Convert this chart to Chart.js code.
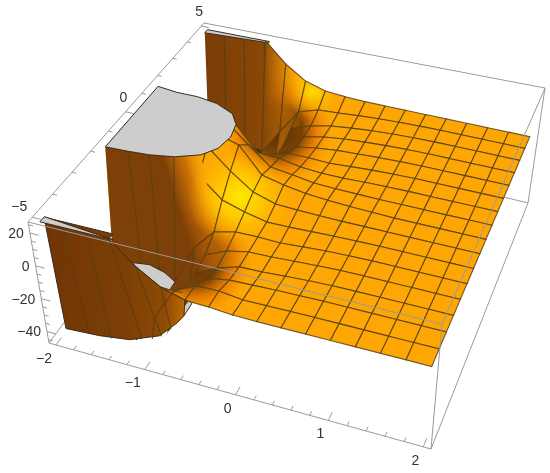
<!DOCTYPE html>
<html>
<head>
<meta charset="utf-8">
<style>html,body{margin:0;padding:0;background:#fff}canvas{display:block}</style>
<script src="https://cdn.jsdelivr.net/npm/chart.js@4"></script>
</head>
<body>
<canvas id="surface" width="550" height="473"></canvas>
<script>
// plot box (data units) and where its faces land in the picture
const xRange = [-2.08, 2.08];
const yRange = [-5.2, 5.2];
const zRange = [-47, 26.7];
const zCapTop = 25;
const zCapBottom = -45.6;
const topFace = [[28, 222], [442, 324], [545, 88], [204, 23]];
const bottomFace = [[49, 343], [431, 449], [528, 203], [210, 125]];

// surface mesh
const xMesh = [-1.25, -1, -0.75, -0.5, -0.25, 0, 0.25, 0.5, 0.75, 1, 1.25, 1.5, 1.75, 2];
const yMesh = [5, 4.375, 3.75, 3.125, 2.5, 1.875, 1.25, 0.625, 0, -0.625, -1.25, -1.875, -2.5, -3.125, -3.75, -4.375, -5];
const zMesh = [
  [25, 11.5, 2.5, -1.5, -2.5, -3, -3, -3, -3, -3, -3, -3, -3, -3],
  [-45.6, -28, -11.3, -7, -6.1, -5, -4.2, -3.6, -3.2, -3, -3, -3, -3, -3],
  [-45.6, -45.6, -14.7, -10.3, -7.3, -5.8, -4.6, -3.8, -3.3, -3, -3, -3, -3, -3],
  [-45.6, -45.6, -18.4, -10, -7, -5.3, -4.4, -3.7, -3.2, -3, -3, -3, -3, -3],
  [-45.6, -45.6, -18, -8.9, -6.5, -5, -4.4, -3.7, -3.2, -3, -3, -3, -3, -3],
  [-45.6, -30, -9, -5.1, -5, -5.5, -4.6, -3.8, -3.3, -3, -3, -3, -3, -3],
  [25, 15, 0, -0.4, -3, -4, -4, -3.5, -3.2, -3, -3, -3, -3, -3],
  [25, 25, 13, 1.9, 0, -2, -2.6, -2.8, -3, -3, -3, -3, -3, -3],
  [25, 25, 21, 4.9, 1.7, -0.5, -1.5, -2.2, -2.6, -3, -3, -3, -3, -3],
  [25, 25, 12.5, 2.4, -1.9, -2.5, -2.8, -3, -3, -3, -3, -3, -3, -3],
  [25, 15, 2.6, -1.7, -4.7, -4.5, -4, -3.5, -3.2, -3, -3, -3, -3, -3],
  [-45.6, -22, -8.8, -5.5, -5.2, -5.6, -4.6, -3.8, -3.3, -3, -3, -3, -3, -3],
  [-45.6, -45.6, -14.3, -8.4, -5.6, -5.3, -4.5, -3.8, -3.2, -3, -3, -3, -3, -3],
  [-45.6, -45.6, -16.4, -9.8, -5.7, -5.3, -4.4, -3.7, -3.2, -3, -3, -3, -3, -3],
  [-45.6, -45.6, -15.7, -6.8, -4.5, -4, -3.6, -3.3, -3, -3, -3, -3, -3, -3],
  [-45.6, -28, -9, -2, -1.7, -3.5, -3.3, -3.1, -3, -3, -3, -3, -3, -3],
  [25, 12, 3, -1.2, -1.7, -2.8, -3, -3, -3, -3, -3, -3, -3, -3]
];

// the clipped parts, as [x, y, z]
const backCap = [[-2, 5, 25], [-1.2, 5, 25], [-1.2, 4.92, 25], [-2, 4.8, 25]];
const backWall = [[-2, 4.8, 25], [-1.2, 4.92, 25], [-1.0, 4.6, 11.5], [-0.8, 4.5, -10], [-0.95, 4.3, -45.6], [-1.17, 4.56, -45.6], [-1.63, 4.57, -45.6], [-2, 4.64, -45.6]];
const backHole = [[-2, 4.64], [-1.17, 4.56], [-0.95, 4.3], [-0.8, 3.1], [-0.85, 2.4], [-1.2, 1.9], [-2, 1.9]];
const capRim = [[-2, -1.58], [-1.74, -1.55], [-1.5, -1.5], [-1.24, -1.35], [-1, -1.03], [-0.88, -0.6], [-0.84, 0], [-0.88, 0.6], [-1, 1.05], [-1.24, 1.37], [-1.5, 1.5], [-1.75, 1.5], [-2, 1.6]];
const lumpWall = [[-2, -1.58, 25], [-1.74, -1.55, 25], [-1.5, -1.5, 25], [-1.24, -1.35, 25], [-1, -1.03, 25], [-0.92, -1.2, 8], [-0.92, -1.875, -3], [-0.94, -2.4, -45.6], [-1.13, -2.14, -45.6], [-1.416, -1.72, -45.6], [-1.63, -1.57, -45.6], [-1.79, -1.65, -45.6], [-2, -1.9, -45.6]];
const holeCap = [[-2, -1.9], [-1.79, -1.65], [-1.63, -1.57], [-1.416, -1.72], [-1.13, -2.14], [-0.94, -2.6], [-0.94, -3.1], [-2, -4]];
const frontWall = [[-2, -4.8, 25], [-1.25, -4.8, 25], [-1.25, -5, 25], [-1, -5, 12], [-0.75, -5, 3], [-0.5, -5, -1.2], [-0.94, -3.1, -45.6], [-0.96, -3.4, -45.6], [-1.05, -4.02, -45.6], [-1.315, -4.43, -45.6], [-1.63, -4.57, -45.6], [-2, -4.64, -45.6]];
const frontCap = [[-2, -5, 25], [-1.2, -5, 25], [-2, -4.78, 25]];

const backWallLines = [[[-1.75, 4.82, 25], [-1.75, 4.57, -45.6]], [[-1.5, 4.86, 25], [-1.5, 4.57, -45.6]], [[-1.25, 4.9, 25], [-1.25, 4.56, -45.6]]];
const lumpWallLines = [[[-1.74, -1.55, 25], [-1.72, -1.6, -45.6]], [[-1.5, -1.5, 25], [-1.5, -1.65, -45.6]], [[-1.25, -1.35, 25], [-1.25, -1.95, -45.6]]];
const frontWallLines = [[[-1.75, -5, 25], [-1.75, -4.57, -45.6]], [[-1.5, -5, 25], [-1.5, -4.55, -45.6]], [[-1.25, -5, 25], [-1.2, -4.3, -45.6]], [[-1, -5, 12], [-1.03, -4.02, -45.6]], [[-0.75, -5, 3], [-0.98, -3.7, -45.6]], [[-1.1, -4.2, -45.6], [-1, -4.4, -28], [-0.75, -4.375, -9], [-0.6, -4.6, -4]]];

const xTicks = [-2, -1.8, -1.6, -1.4, -1.2, -1, -0.8, -0.6, -0.4, -0.2, 0, 0.2, 0.4, 0.6, 0.8, 1, 1.2, 1.4, 1.6, 1.8, 2];
const yTicks = [-5, -4, -3, -2, -1, 0, 1, 2, 3, 4, 5];
const zTicks = [25, 20, 15, 10, 5, 0, -5, -10, -15, -20, -25, -30, -35, -40, -45];
const xLabels = [-2, -1, 0, 1, 2];
const yLabels = [-5, 0, 5];
const zLabels = [20, 0, -20, -40];

const meshColor = "rgba(85,62,20,0.85)";
const rimColor = "#3a2a18";
const boxColor = "#9a9a9a";
const capColor = "#cdcdcd";
const floorColor = "#fea704";

function homography(q) {
  const sx = q[0][0] - q[1][0] + q[2][0] - q[3][0];
  const sy = q[0][1] - q[1][1] + q[2][1] - q[3][1];
  const d1x = q[1][0] - q[2][0], d1y = q[1][1] - q[2][1];
  const d2x = q[3][0] - q[2][0], d2y = q[3][1] - q[2][1];
  const den = d1x * d2y - d2x * d1y;
  const g = (sx * d2y - d2x * sy) / den;
  const h = (d1x * sy - sx * d1y) / den;
  return (u, v) => {
    const w = 1 + g * u + h * v;
    return [
      ((q[1][0] - q[0][0] + g * q[1][0]) * u + (q[3][0] - q[0][0] + h * q[3][0]) * v + q[0][0]) / w,
      ((q[1][1] - q[0][1] + g * q[1][1]) * u + (q[3][1] - q[0][1] + h * q[3][1]) * v + q[0][1]) / w
    ];
  };
}
const topPlane = homography(topFace);
const bottomPlane = homography(bottomFace);

function project(p) {
  const u = (p[0] - xRange[0]) / (xRange[1] - xRange[0]);
  const v = (p[1] - yRange[0]) / (yRange[1] - yRange[0]);
  const t = (zRange[1] - p[2]) / (zRange[1] - zRange[0]);
  const a = topPlane(u, v), b = bottomPlane(u, v);
  return { x: a[0] + (b[0] - a[0]) * t, y: a[1] + (b[1] - a[1]) * t };
}

const canvas = document.getElementById("surface");
const ctx = canvas.getContext("2d");

function radial(cx, cy, r, stops) {
  const g = ctx.createRadialGradient(cx, cy, 0, cx, cy, r);
  stops.forEach(s => g.addColorStop(s[0], s[1]));
  return g;
}
function linear(x0, y0, x1, y1, stops) {
  const g = ctx.createLinearGradient(x0, y0, x1, y1);
  stops.forEach(s => g.addColorStop(s[0], s[1]));
  return g;
}
const near = (cx, cy, r) => p => Math.hypot(p.x - cx, p.y - cy) < r + 25;

const funnelStops = [[0, "rgba(85,42,6,0.98)"], [0.45, "rgba(115,57,5,0.92)"], [0.74, "rgba(225,105,0,0.55)"], [1, "rgba(235,120,0,0)"]];
const wallShade = linear(174, 195, 214, 183, [[0, "rgba(125,64,8,1)"], [0.5, "rgba(190,100,5,0.78)"], [1, "rgba(255,170,0,0)"]]);
const glowShade = radial(240, 197, 52, [[0, "rgba(255,232,0,1)"], [0.4, "rgba(255,210,0,0.8)"], [1, "rgba(255,180,0,0)"]]);
const frontFunnel = radial(194, 258, 58, funnelStops);
const shades = [
  { fill: radial(278, 130, 54, funnelStops), hit: near(278, 130, 54) },
  { fill: frontFunnel, hit: near(194, 258, 58) },
  { fill: wallShade, hit: (p, r) => p.x < 235 && r <= 12 },
  { fill: glowShade, hit: near(240, 197, 52) },
  { fill: radial(312, 92, 26, [[0, "rgba(255,225,0,0.9)"], [1, "rgba(255,190,0,0)"]]), hit: near(312, 92, 26) },
  { fill: linear(262, 0, 302, 0, [[0, "rgba(130,68,6,1)"], [0.5, "rgba(190,105,5,0.7)"], [1, "rgba(255,170,0,0)"]]), hit: (p, r) => r <= 1 && p.x < 305 && p.y < 115 }
];

const datasets = [];

function addShape(points, fill, line, width) {
  datasets.push({
    data: points,
    showLine: true,
    fill: fill ? "shape" : false,
    backgroundColor: fill || "transparent",
    borderColor: line || "transparent",
    borderWidth: width || 1,
    pointRadius: 0,
    tension: 0,
    clip: false
  });
}
function addLines(list, color, width) {
  list.forEach(l => addShape(l.map(project), null, color, width));
}
function addCells(rowFrom, rowTo) {
  for (let r = rowFrom; r < rowTo; r++) {
    for (let c = 0; c < xMesh.length - 1; c++) {
      const cell = [[c, r], [c + 1, r], [c + 1, r + 1], [c, r + 1]].map(i => project([xMesh[i[0]], yMesh[i[1]], zMesh[i[1]][i[0]]]));
      addShape(cell, floorColor);
      shades.forEach(s => {
        if (cell.some(p => s.hit(p, r))) addShape(cell, s.fill);
      });
      addShape(cell.concat([cell[0]]), null, meshColor, 1.1);
    }
  }
}
function closed(points) {
  return points.concat([points[0]]);
}

// box edges behind the surface
addLines([
  [[xRange[0], yRange[1], zRange[1]], [xRange[1], yRange[1], zRange[1]]],
  [[xRange[0], yRange[0], zRange[1]], [xRange[0], yRange[1], zRange[1]]],
  [[xRange[1], yRange[1], zRange[1]], [xRange[1], yRange[1], zRange[0]]],
  [[xRange[0], yRange[1], zRange[0]], [xRange[1], yRange[1], zRange[0]]],
  [[xRange[0], yRange[0], zRange[0]], [xRange[0], yRange[1], zRange[0]]]
], boxColor, 1);

// far wall
const backWallFill = linear(205, 0, 300, 0, [[0, "#7a3d07"], [0.6, "#8a4706"], [0.85, "#a85a05"], [1, "#5e2e05"]]);
addShape(backHole.map(p => project([p[0], p[1], zCapBottom])), "#5e2e05");
addShape(backWall.map(project), backWallFill);
addLines(backWallLines, meshColor, 1.1);
addShape(closed(backCap.map(project)), capColor, rimColor, 1);

// mesh from the far edge to the ridge
addCells(0, 11);

// middle wall and cap
const lumpPoints = lumpWall.map(project);
addShape(lumpPoints, floorColor);
addShape(lumpPoints, frontFunnel);
addShape(lumpPoints, wallShade);
addShape(lumpPoints, glowShade);
addLines(lumpWallLines, meshColor, 1.1);
addShape(closed(capRim.map(p => project([p[0], p[1], zCapTop]))), capColor, rimColor, 1);

// cap at the bottom of the near hole
addShape(closed(holeCap.map(p => project([p[0], p[1], zCapBottom]))), capColor, rimColor, 1);

// mesh from the ridge to the near edge
addCells(11, yMesh.length - 1);

// near wall
const frontFill = linear(50, 0, 186, 0, [[0, "#703605"], [0.55, "#7c3f06"], [0.85, "#8f4b05"], [1, "#c06c00"]]);
addShape(closed(frontWall.map(project)), frontFill, rimColor, 1);
addLines(frontWallLines, meshColor, 1.1);
addShape(closed(frontCap.map(project)), capColor, rimColor, 1);

// ticks
xTicks.forEach(v => {
  const long = Number.isInteger(v);
  addLines([[[v, yRange[0], zRange[0]], [v, yRange[0] + (long ? 0.3 : 0.15), zRange[0]]]], boxColor, 1);
});
yTicks.forEach(v => {
  const long = v % 5 === 0;
  addLines([[[xRange[0], v, zRange[1]], [xRange[0] + (long ? 0.1 : 0.05), v, zRange[1]]]], boxColor, 1);
});
zTicks.forEach(v => {
  const long = v % 20 === 0;
  addLines([[[xRange[0], yRange[0], v], [xRange[0] + (long ? 0.1 : 0.05), yRange[0], v]]], boxColor, 1);
});

// box edges in front of the surface
addLines([
  [[xRange[0], yRange[0], zRange[1]], [xRange[1], yRange[0], zRange[1]]],
  [[xRange[1], yRange[0], zRange[1]], [xRange[1], yRange[1], zRange[1]]],
  [[xRange[0], yRange[0], zRange[1]], [xRange[0], yRange[0], zRange[0]]],
  [[xRange[1], yRange[0], zRange[1]], [xRange[1], yRange[0], zRange[0]]],
  [[xRange[0], yRange[0], zRange[0]], [xRange[1], yRange[0], zRange[0]]],
  [[xRange[1], yRange[0], zRange[0]], [xRange[1], yRange[1], zRange[0]]]
], boxColor, 1);

const tickLabels = {
  id: "tickLabels",
  afterDatasetsDraw(chart) {
    const c = chart.ctx;
    const sx = chart.scales.x, sy = chart.scales.y;
    const put = (p, text, dx, dy, align) => {
      const a = project(p);
      c.textAlign = align;
      c.fillText(text, sx.getPixelForValue(a.x) + dx, sy.getPixelForValue(a.y) + dy);
    };
    const str = v => String(v).replace("-", "\u2212");
    c.save();
    c.font = "14px 'Liberation Sans'";
    c.fillStyle = "#333333";
    c.textBaseline = "middle";
    xLabels.forEach(v => put([v, yRange[0], zRange[0]], str(v), v < 0 ? -12 : -8, 14, "center"));
    yLabels.forEach(v => put([xRange[0], v, zRange[1]], str(v), v < 0 ? -13 : -2, v < 0 ? -10 : -14, "center"));
    zLabels.forEach(v => put([xRange[0], yRange[0], v], str(v), -6, 1, "right"));
    c.restore();
  }
};

new Chart(ctx, {
  type: "scatter",
  data: { datasets: datasets.reverse() },
  options: {
    responsive: false,
    animation: false,
    events: [],
    layout: { padding: 0 },
    plugins: { legend: { display: false }, tooltip: { enabled: false } },
    scales: {
      x: { type: "linear", display: false, min: 0, max: 550 },
      y: { type: "linear", display: false, min: 0, max: 473, reverse: true }
    }
  },
  plugins: [tickLabels]
});
</script>
</body>
</html>
